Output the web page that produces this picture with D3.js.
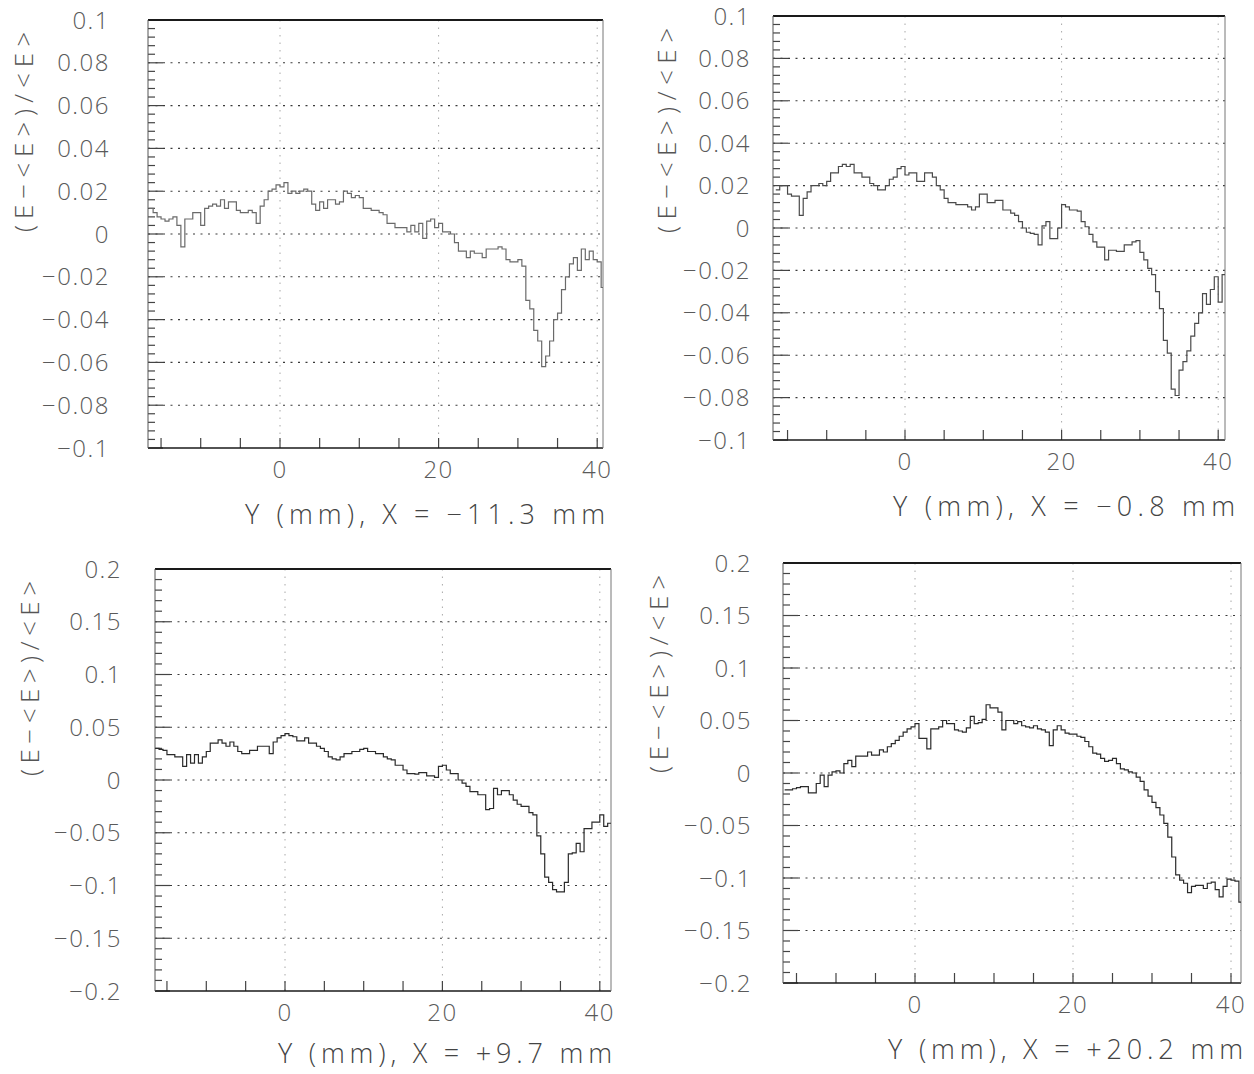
<!DOCTYPE html>
<html>
<head>
<meta charset="utf-8">
<script src="https://cdn.jsdelivr.net/npm/d3@7"></script>
<style>
  body { margin: 0; background: #fff; }
  svg { display: block; }
</style>
</head>
<body>
<svg id="fig" width="1254" height="1074"></svg>
<script>
// Histogram binning (mm): 0.5 mm bins
const binStart = -16.5;
const binWidth = 0.5;

// Axis ticks and labels
const xTickValues = [0, 20, 40];
const xTickLabels = ["0", "20", "40"];
const yTickValuesFine = [0.1, 0.08, 0.06, 0.04, 0.02, 0, -0.02, -0.04, -0.06, -0.08, -0.1];
const yTickLabelsFine = ["0.1", "0.08", "0.06", "0.04", "0.02", "0", "\u22120.02", "\u22120.04", "\u22120.06", "\u22120.08", "\u22120.1"];
const yTickValuesCoarse = [0.2, 0.15, 0.1, 0.05, 0, -0.05, -0.1, -0.15, -0.2];
const yTickLabelsCoarse = ["0.2", "0.15", "0.1", "0.05", "0", "\u22120.05", "\u22120.1", "\u22120.15", "\u22120.2"];

const yTitle = "(E\u2212<E>)/<E>";
const xTitles = [
  "Y (mm), X = \u221211.3 mm",
  "Y (mm), X = \u22120.8 mm",
  "Y (mm), X = +9.7 mm",
  "Y (mm), X = +20.2 mm"
];

// Relative energy deviation per 0.5 mm bin, X = -11.3 mm
const devXm113 = [
  0.012, 0.010, 0.008, 0.007, 0.006, 0.007, 0.008, 0.004, -0.006, 0.007,
  0.007, 0.010, 0.010, 0.004, 0.012, 0.013, 0.014, 0.013, 0.016, 0.012,
  0.015, 0.015, 0.011, 0.010, 0.010, 0.011, 0.010, 0.005, 0.013, 0.016,
  0.020, 0.021, 0.023, 0.022, 0.024, 0.019, 0.020, 0.019, 0.020, 0.021,
  0.020, 0.014, 0.011, 0.015, 0.012, 0.016, 0.016, 0.014, 0.015, 0.020,
  0.019, 0.017, 0.018, 0.017, 0.012, 0.012, 0.011, 0.011, 0.010, 0.009,
  0.005, 0.005, 0.003, 0.003, 0.003, 0.001, 0.004, 0.001, 0.005, -0.002,
  0.006, 0.007, 0.003, 0.005, 0.001, 0.001, 0.000, -0.004, -0.008, -0.008,
  -0.011, -0.008, -0.009, -0.009, -0.011, -0.007, -0.007, -0.007, -0.006, -0.007,
  -0.012, -0.013, -0.013, -0.012, -0.015, -0.031, -0.035, -0.045, -0.050, -0.062,
  -0.057, -0.050, -0.040, -0.037, -0.026, -0.020, -0.014, -0.011, -0.017, -0.007,
  -0.012, -0.008, -0.012, -0.013, -0.025, -0.026
];

// X = -0.8 mm
const devXm08 = [
  0.018, 0.020, 0.020, 0.016, 0.015, 0.015, 0.006, 0.014, 0.017, 0.020,
  0.020, 0.021, 0.020, 0.022, 0.026, 0.026, 0.029, 0.030, 0.029, 0.030,
  0.026, 0.026, 0.024, 0.024, 0.021, 0.020, 0.018, 0.018, 0.020, 0.023,
  0.024, 0.028, 0.029, 0.025, 0.026, 0.026, 0.022, 0.022, 0.026, 0.026,
  0.024, 0.020, 0.018, 0.014, 0.012, 0.012, 0.011, 0.011, 0.011, 0.010,
  0.0085, 0.010, 0.016, 0.016, 0.012, 0.012, 0.013, 0.013, 0.0085, 0.0085,
  0.007, 0.006, 0.003, 0.000, -0.002, -0.0025, -0.003, -0.008, 0.001, 0.003,
  -0.005, -0.005, 0.000, 0.011, 0.010, 0.0085, 0.0085, 0.008, 0.003, 0.0006,
  -0.003, -0.0065, -0.009, -0.009, -0.015, -0.0105, -0.0105, -0.011, -0.011, -0.008,
  -0.008, -0.0065, -0.006, -0.0115, -0.015, -0.019, -0.022, -0.030, -0.038, -0.053,
  -0.059, -0.076, -0.079, -0.067, -0.063, -0.058, -0.051, -0.045, -0.040, -0.031,
  -0.036, -0.029, -0.023, -0.035, -0.022, -0.022
];

// X = +9.7 mm
const devXp97 = [
  0.030, 0.029, 0.028, 0.024, 0.024, 0.022, 0.022, 0.013, 0.024, 0.016,
  0.024, 0.016, 0.022, 0.027, 0.035, 0.035, 0.038, 0.035, 0.032, 0.036,
  0.032, 0.027, 0.025, 0.025, 0.028, 0.028, 0.032, 0.032, 0.032, 0.025,
  0.036, 0.040, 0.042, 0.044, 0.042, 0.041, 0.037, 0.037, 0.040, 0.035,
  0.035, 0.032, 0.030, 0.027, 0.022, 0.020, 0.019, 0.022, 0.025, 0.025,
  0.027, 0.027, 0.029, 0.030, 0.027, 0.027, 0.025, 0.025, 0.022, 0.020,
  0.019, 0.014, 0.014, 0.0095, 0.006, 0.006, 0.0055, 0.007, 0.007, 0.004,
  0.004, 0.0025, 0.013, 0.014, 0.0095, 0.006, 0.006, 0.000, -0.003, -0.006,
  -0.011, -0.011, -0.014, -0.014, -0.028, -0.027, -0.008, -0.014, -0.010, -0.010,
  -0.014, -0.019, -0.023, -0.025, -0.025, -0.031, -0.033, -0.053, -0.070, -0.092,
  -0.097, -0.104, -0.106, -0.106, -0.097, -0.070, -0.069, -0.060, -0.068, -0.046,
  -0.046, -0.040, -0.040, -0.033, -0.044, -0.041
];

// X = +20.2 mm
const devXp202 = [
  -0.016, -0.016, -0.015, -0.014, -0.013, -0.013, -0.019, -0.019, -0.010, -0.002,
  -0.013, -0.002, 0.001, 0.002, 0.000, 0.009, 0.012, 0.006, 0.016, 0.016,
  0.016, 0.020, 0.017, 0.017, 0.022, 0.020, 0.025, 0.028, 0.031, 0.035,
  0.039, 0.042, 0.044, 0.047, 0.033, 0.033, 0.023, 0.042, 0.042, 0.044,
  0.050, 0.047, 0.047, 0.041, 0.040, 0.039, 0.043, 0.054, 0.047, 0.048,
  0.051, 0.065, 0.062, 0.062, 0.058, 0.041, 0.050, 0.050, 0.047, 0.049,
  0.045, 0.044, 0.043, 0.045, 0.042, 0.041, 0.039, 0.026, 0.041, 0.045,
  0.041, 0.038, 0.037, 0.037, 0.035, 0.034, 0.030, 0.025, 0.019, 0.018,
  0.014, 0.011, 0.012, 0.014, 0.009, 0.004, 0.003, 0.001, 0.000, -0.004,
  -0.008, -0.016, -0.022, -0.028, -0.033, -0.040, -0.048, -0.061, -0.080, -0.097,
  -0.102, -0.105, -0.114, -0.108, -0.107, -0.107, -0.110, -0.105, -0.104, -0.111,
  -0.118, -0.108, -0.101, -0.102, -0.103, -0.123
];

// Panel frames (pixels): x0 = pixel of Y = 0 mm, ppm = pixels per mm
const panels = [
  { values: devXm113, title: xTitles[0], left: 148, top: 20, right: 603, bottom: 448, x0: 280, ppm: 7.93,
    fine: true, labelGap: 38, titleX: 24, titleLen: 200, xTitleLen: 360, xTitleRight: 605, xTitleDy: 76, line: "#6a6a6a" },
  { values: devXm08, title: xTitles[1], left: 773, top: 16, right: 1225, bottom: 440, x0: 905, ppm: 7.83,
    fine: true, labelGap: 22, titleX: 667, titleLen: 205, xTitleLen: 342, xTitleRight: 1235, xTitleDy: 76, line: "#4a4a4a" },
  { values: devXp97, title: xTitles[2], left: 155, top: 569, right: 611, bottom: 991, x0: 285, ppm: 7.87,
    fine: false, labelGap: 33, titleX: 30, titleLen: 195, xTitleLen: 334, xTitleRight: 612, xTitleDy: 72, line: "#2a2a2a" },
  { values: devXp202, title: xTitles[3], left: 783, top: 563, right: 1241, bottom: 983, x0: 915, ppm: 7.9,
    fine: false, labelGap: 31, titleX: 659, titleLen: 198, xTitleLen: 355, xTitleRight: 1243, xTitleDy: 76, line: "#2a2a2a" }
];

const svg = d3.select("#fig");
const font = "'Open Sans', 'DejaVu Sans', sans-serif";

panels.forEach((p, k) => {
  const g = svg.append("g");
  const yTickValues = p.fine ? yTickValuesFine : yTickValuesCoarse;
  const yTickLabels = p.fine ? yTickLabelsFine : yTickLabelsCoarse;
  const yMax = yTickValues[0];

  const x = d3.scaleLinear().domain([0, 40]).range([p.x0, p.x0 + 40 * p.ppm]);
  const y = d3.scaleLinear().domain([-yMax, yMax]).range([p.bottom, p.top]);

  const clipId = "clip" + k;
  svg.append("clipPath").attr("id", clipId).append("rect")
    .attr("x", p.left).attr("y", p.top)
    .attr("width", p.right - p.left).attr("height", p.bottom - p.top);

  // vertical reference lines at the labelled Y positions
  g.selectAll("line.vgrid").data(xTickValues).join("line")
    .attr("x1", d => x(d)).attr("x2", d => x(d))
    .attr("y1", p.top).attr("y2", p.bottom)
    .attr("stroke", "#a8a8a8").attr("stroke-width", 1)
    .attr("stroke-dasharray", "1.5,6");

  // horizontal dotted grid at major ticks
  g.selectAll("line.hgrid").data(yTickValues.slice(1, -1)).join("line")
    .attr("x1", p.left).attr("x2", p.right)
    .attr("y1", d => y(d)).attr("y2", d => y(d))
    .attr("stroke", "#3a3a3a").attr("stroke-width", 1.1)
    .attr("stroke-dasharray", "2,5.5");

  // left axis: major and minor ticks pointing inward
  const nMinor = p.fine ? 50 : 40;
  const minorVals = d3.range(0, nMinor + 1).map(i => -yMax + i * (2 * yMax / nMinor));
  g.selectAll("line.ytick").data(minorVals).join("line")
    .attr("x1", p.left).attr("x2", (d, i) => p.left + (i % 5 === 0 ? 15 : 7))
    .attr("y1", d => y(d)).attr("y2", d => y(d))
    .attr("stroke", "#444").attr("stroke-width", 1.2);

  // bottom axis ticks every 5 mm
  g.selectAll("line.xtick").data(d3.range(-15, 41, 5)).join("line")
    .attr("x1", d => x(d)).attr("x2", d => x(d))
    .attr("y1", p.bottom).attr("y2", p.bottom - 10)
    .attr("stroke", "#444").attr("stroke-width", 1.2);

  // frame
  g.append("line").attr("x1", p.left).attr("x2", p.right).attr("y1", p.top).attr("y2", p.top)
    .attr("stroke", "#1a1a1a").attr("stroke-width", 2);
  g.append("line").attr("x1", p.left).attr("x2", p.right).attr("y1", p.bottom).attr("y2", p.bottom)
    .attr("stroke", "#1a1a1a").attr("stroke-width", 1.6);
  g.append("line").attr("x1", p.left).attr("x2", p.left).attr("y1", p.top).attr("y2", p.bottom)
    .attr("stroke", "#555").attr("stroke-width", 1);
  g.append("line").attr("x1", p.right).attr("x2", p.right).attr("y1", p.top).attr("y2", p.bottom)
    .attr("stroke", "#777").attr("stroke-width", 1);

  // histogram as a step line
  const pts = p.values.map((v, i) => [binStart + i * binWidth, v]);
  pts.push([binStart + p.values.length * binWidth, p.values[p.values.length - 1]]);
  const line = d3.line().x(d => x(d[0])).y(d => y(d[1])).curve(d3.curveStepAfter);
  g.append("path").attr("d", line(pts))
    .attr("clip-path", `url(#${clipId})`)
    .attr("fill", "none").attr("stroke", p.line).attr("stroke-width", 1.2);

  // y tick labels
  g.selectAll("text.ylab").data(yTickValues).join("text")
    .attr("x", p.left - p.labelGap).attr("y", d => y(d))
    .attr("dy", "0.36em").attr("text-anchor", "end")
    .attr("font-family", font).attr("font-weight", 300)
    .attr("font-size", 24).attr("fill", "#5a5a5a")
    .attr("letter-spacing", 1.5)
    .text((d, i) => yTickLabels[i]);

  // x tick labels
  g.selectAll("text.xlab").data(xTickValues).join("text")
    .attr("x", d => x(d)).attr("y", p.bottom + 30)
    .attr("text-anchor", "middle")
    .attr("font-family", font).attr("font-weight", 300)
    .attr("font-size", 24).attr("fill", "#5a5a5a")
    .attr("letter-spacing", 1.5)
    .text((d, i) => xTickLabels[i]);

  // x axis title
  g.append("text")
    .attr("x", p.xTitleRight - p.xTitleLen).attr("y", p.bottom + p.xTitleDy)
    .attr("textLength", p.xTitleLen).attr("lengthAdjust", "spacing")
    .attr("font-family", font).attr("font-weight", 300)
    .attr("font-size", 27).attr("fill", "#444")
    .text(p.title);

  // y axis title (rotated)
  const cy = p.top + 12 + p.titleLen / 2;
  g.append("text")
    .attr("transform", `translate(${p.titleX},${cy}) rotate(-90)`)
    .attr("x", -p.titleLen / 2).attr("dy", "0.36em")
    .attr("textLength", p.titleLen).attr("lengthAdjust", "spacing")
    .attr("font-family", font).attr("font-weight", 300)
    .attr("font-size", 26).attr("fill", "#555")
    .text(yTitle);
});
</script>
</body>
</html>
